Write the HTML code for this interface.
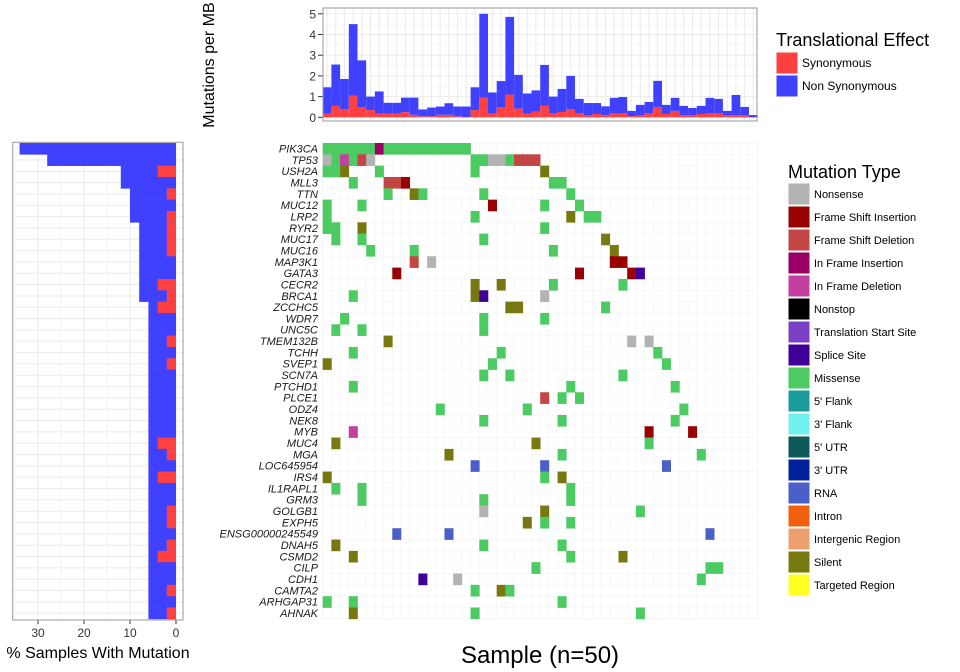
<!DOCTYPE html>
<html><head><meta charset="utf-8"><style>
body{margin:0;background:#fff;}
svg{display:block;font-family:"Liberation Sans",sans-serif;}
</style></head><body>
<svg id="chart" width="960" height="672" viewBox="0 0 960 672"></svg>
<script>
const genes=["PIK3CA","TP53","USH2A","MLL3","TTN","MUC12","LRP2","RYR2","MUC17","MUC16","MAP3K1","GATA3","CECR2","BRCA1","ZCCHC5","WDR7","UNC5C","TMEM132B","TCHH","SVEP1","SCN7A","PTCHD1","PLCE1","ODZ4","NEK8","MYB","MUC4","MGA","LOC645954","IRS4","IL1RAPL1","GRM3","GOLGB1","EXPH5","ENSG00000245549","DNAH5","CSMD2","CILP","CDH1","CAMTA2","ARHGAP31","AHNAK"];
// mutations: "geneIndex:sample:type"
const mutations=[
"0:0:G","0:1:G","0:2:G","0:3:G","0:4:G","0:5:G","0:6:II","0:7:G","0:8:G","0:9:G","0:10:G","0:11:G","0:12:G","0:13:G","0:14:G","0:15:G","0:16:G",
"1:0:N","1:1:G","1:2:ID","1:3:G","1:4:FD","1:5:N","1:17:G","1:18:G","1:19:N","1:20:N","1:21:G","1:22:FD","1:23:FD","1:24:FD",
"2:0:G","2:1:G","2:2:S","2:6:G","2:17:G","2:25:S",
"3:3:G","3:7:FD","3:8:FD","3:9:FI","3:26:G","3:27:G",
"4:7:G","4:10:S","4:11:G","4:18:G","4:28:G",
"5:0:G","5:4:G","5:19:FI","5:25:G","5:29:G",
"6:0:G","6:17:G","6:28:S","6:30:G","6:31:G",
"7:0:G","7:1:G","7:4:S","7:25:G",
"8:1:G","8:4:G","8:18:G","8:32:S",
"9:5:G","9:10:G","9:26:G","9:33:S",
"10:10:FD","10:12:N","10:33:FI","10:34:FI",
"11:8:FI","11:29:FI","11:35:FI","11:36:SP",
"12:17:S","12:20:S","12:26:G","12:34:G",
"13:3:G","13:17:S","13:18:SP","13:25:N",
"14:21:S","14:22:S","14:32:G",
"15:2:G","15:18:G","15:25:G",
"16:1:G","16:4:G","16:18:G",
"17:7:S","17:35:N","17:37:N",
"18:3:G","18:20:G","18:38:G",
"19:0:S","19:19:G","19:39:G",
"20:18:G","20:21:G","20:34:G",
"21:3:G","21:28:G","21:40:G",
"22:25:FD","22:27:G","22:29:G",
"23:13:G","23:23:G","23:41:G",
"24:18:G","24:27:G","24:40:G",
"25:3:ID","25:37:FI","25:42:FI",
"26:1:S","26:24:S","26:37:G",
"27:14:S","27:27:G","27:43:G",
"28:17:R","28:25:R","28:39:R",
"29:0:S","29:25:G","29:27:S",
"30:1:G","30:4:G","30:28:G",
"31:4:G","31:18:G","31:28:G",
"32:18:N","32:25:S","32:36:G",
"33:23:S","33:25:G","33:28:G",
"34:8:R","34:14:R","34:44:R",
"35:1:S","35:18:G","35:27:G",
"36:3:S","36:28:G","36:34:S",
"37:24:G","37:44:G","37:45:G",
"38:11:SP","38:15:N","38:43:G",
"39:17:G","39:20:S","39:21:G",
"40:0:G","40:3:G","40:27:G",
"41:3:S","41:17:G","41:36:G"];
const synRate=[0.18,0.55,0.4,1.05,0.48,0.35,0.18,0.18,0.18,0.25,0.12,0.05,0.05,0.12,0.12,0.05,0,0.35,0.95,0.18,0.48,1.1,0.42,0.18,0.27,0.55,0.19,0.26,0.4,0.19,0.11,0.16,0.11,0.19,0.19,0.06,0.11,0.19,0.5,0.16,0.31,0.11,0.11,0.16,0.19,0.19,0.11,0.11,0.11,0];
const nonSynRate=[1.27,2.0,1.45,3.45,2.27,0.65,1.07,0.52,0.52,0.7,0.83,0.33,0.42,0.4,0.56,0.47,0.52,1.1,4.05,1.02,1.27,3.75,1.63,0.97,1.03,1.98,0.81,1.11,1.6,0.7,0.58,0.53,0.42,0.75,0.79,0.25,0.49,0.55,1.26,0.44,0.63,0.44,0.34,0.39,0.75,0.7,0.2,0.97,0.39,0.11];
const rateTicks=[0,1,2,3,4,5];
const pctTicks=[30,20,10,0];
const typeNames=["Nonsense","Frame Shift Insertion","Frame Shift Deletion","In Frame Insertion","In Frame Deletion","Nonstop","Translation Start Site","Splice Site","Missense","5' Flank","3' Flank","5' UTR","3' UTR","RNA","Intron","Intergenic Region","Silent","Targeted Region"];
const typeCodes=["N","FI","FD","II","ID","NS","TS","SP","G","F5","F3","U5","U3","R","I","IG","S","T"];
const typeColors=["#b3b3b3","#990000","#c44545","#990066","#c43fa0","#000000","#7b3fc6","#3e0099","#4ccb62","#1a9c9c","#70f0f0","#0e5a5a","#00209c","#4a60c8","#f0600f","#eba06d","#787810","#ffff22"];

const NS="http://www.w3.org/2000/svg";
const svg=document.getElementById('chart');
function el(tag,attrs,parent,text){const e=document.createElementNS(NS,tag);for(const k in attrs)e.setAttribute(k,attrs[k]);if(text!==undefined)e.textContent=text;(parent||svg).appendChild(e);return e;}

const nS=50, hx0=322.7, cw=8.7, hy0=143, rh=11.33;
const hx=s=>hx0+cw*s, hy=g=>hy0+rh*g;

// ---- top chart
const topG=el('g',{});

const tx0=323,tx1=757,ty0=8,ty1=121;
const ry=v=>117.3-20.7*v;
el('rect',{x:tx0,y:ty0,width:tx1-tx0,height:ty1-ty0,fill:'#fff'},topG);
for(let v=0.5;v<5.5;v+=1)el('line',{x1:tx0,x2:tx1,y1:ry(v),y2:ry(v),stroke:'#f2f2f2','stroke-width':0.6},topG);
for(let s=0;s<nS;s++)el('line',{x1:hx(s)+cw/2,x2:hx(s)+cw/2,y1:ty0,y2:ty1,stroke:'#ebebeb','stroke-width':1},topG);
rateTicks.forEach(v=>{el('line',{x1:tx0,x2:tx1,y1:ry(v),y2:ry(v),stroke:'#ebebeb','stroke-width':1},topG);
 const t=el('text',{x:316,y:ry(v)+4.5,'text-anchor':'end','font-size':12,fill:'#333'},topG,String(v));
 
 el('line',{x1:318,x2:tx0,y1:ry(v),y2:ry(v),stroke:'#333','stroke-width':1},topG);});
for(let s=0;s<nS;s++){
 const r=el('rect',{x:hx(s),y:ry(synRate[s]),width:cw,height:ry(0)-ry(synRate[s]),fill:'#ff4040'},topG);
 
 const b=el('rect',{x:hx(s),y:ry(synRate[s]+nonSynRate[s]),width:cw,height:ry(synRate[s])-ry(synRate[s]+nonSynRate[s]),fill:'#4040ff'},topG);
 
}
el('rect',{x:tx0,y:ty0,width:tx1-tx0,height:ty1-ty0,fill:'none',stroke:'#999','stroke-width':1},topG);
const yt=el('text',{x:0,y:0,transform:'translate(214,65) rotate(-90)','text-anchor':'middle','font-size':16,fill:'#000'},topG,'Mutations per MB');


// ---- heatmap
const hm=el('g',{});

el('rect',{x:hx0,y:hy0,width:cw*nS,height:rh*genes.length,fill:'#fff',stroke:'#f0f0f0'},hm);
for(let s=0;s<=nS;s++)el('line',{x1:hx(s),x2:hx(s),y1:hy0,y2:hy(genes.length),stroke:'#f6f6f6','stroke-width':0.8},hm);
for(let g=0;g<=genes.length;g++)el('line',{x1:hx0,x2:hx(nS),y1:hy(g),y2:hy(g),stroke:'#f6f6f6','stroke-width':0.8},hm);
const counts=genes.map(()=>0), silents=genes.map(()=>0);
mutations.forEach(m=>{const [g,s,t]=m.split(':');const gi=+g,si=+s;counts[gi]++;if(t==='S')silents[gi]++;
 const c=el('rect',{x:hx(si),y:hy(gi),width:cw+0.3,height:rh+0.3,fill:typeColors[typeCodes.indexOf(t)]},hm);
 });
genes.forEach((g,i)=>{const t=el('text',{x:318,y:hy(i)+rh/2+3.8,'text-anchor':'end','font-size':11,'font-style':'italic',fill:'#1a1a1a'},hm,g);
 });
const xt=el('text',{x:540,y:663,'text-anchor':'middle','font-size':24,fill:'#000'},svg,'Sample (n=50)');


// ---- left bar chart
const lg=el('g',{});

const lx0=12.7,lx1=183,ly0=142.3,ly1=620;
const px=p=>176-4.6*p;
for(let g=0;g<genes.length;g++)el('line',{x1:lx0,x2:lx1,y1:hy(g)+rh/2,y2:hy(g)+rh/2,stroke:'#ebebeb'},lg);
[35,25,15,5].forEach(p=>el('line',{x1:px(p),x2:px(p),y1:ly0,y2:ly1,stroke:'#f3f3f3'},lg));
pctTicks.forEach(p=>{el('line',{x1:px(p),x2:px(p),y1:ly0,y2:ly1,stroke:'#ebebeb'},lg);
 el('line',{x1:px(p),x2:px(p),y1:ly1,y2:ly1+4,stroke:'#333'},lg);
 const t=el('text',{x:px(p),y:637,'text-anchor':'middle','font-size':12,fill:'#333'},lg,String(p));
 });
genes.forEach((g,i)=>{const tot=counts[i]/nS*100, sil=silents[i]/nS*100;
 const b=el('rect',{x:px(tot),y:hy(i),width:px(0)-px(tot),height:rh+0.3,fill:'#4040ff'},lg);
 
 if(sil>0){const r=el('rect',{x:px(sil),y:hy(i),width:px(0)-px(sil),height:rh+0.3,fill:'#ff4040'},lg);
 }});
el('rect',{x:lx0,y:ly0,width:lx1-lx0,height:ly1-ly0,fill:'none',stroke:'#999'},lg);
const lt=el('text',{x:98,y:658,'text-anchor':'middle','font-size':16,fill:'#000'},lg,'% Samples With Mutation');


// ---- legends
const l1=el('g',{});

el('text',{x:776,y:46,'font-size':18,fill:'#000'},l1,'Translational Effect');
[['Synonymous','#ff4040'],['Non Synonymous','#4040ff']].forEach((d,i)=>{
 const e=el('g',{},l1);
 el('rect',{x:776,y:52+23*i,width:22,height:22,fill:d[1],stroke:'#fff'},e);
 el('text',{x:802,y:67+23*i,'font-size':12,fill:'#000'},e,d[0]);});
const l2=el('g',{});

el('text',{x:788,y:178,'font-size':18,fill:'#000'},l2,'Mutation Type');
typeNames.forEach((n,i)=>{const e=el('g',{},l2);
 el('rect',{x:788,y:183+23*i,width:22,height:22,fill:typeColors[i],stroke:'#fff'},e);
 el('text',{x:814,y:198+23*i,'font-size':11,fill:'#000'},e,n);});
</script>
</body></html>
